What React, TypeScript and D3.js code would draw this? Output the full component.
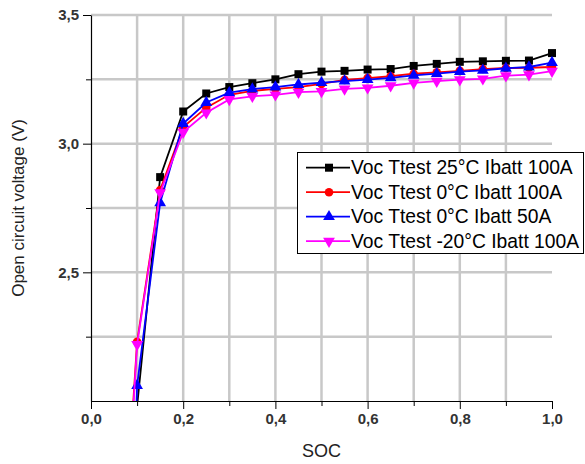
import React, { useEffect, useRef } from "react";
import * as d3 from "d3";

const soc = [0.09, 0.1, 0.15, 0.2, 0.25, 0.3, 0.35, 0.4, 0.45, 0.5, 0.55, 0.6, 0.65, 0.7, 0.75, 0.8, 0.85, 0.9, 0.95, 1.0];

const voc25_100 = [1.6, 1.98, 2.87, 3.125, 3.195, 3.22, 3.235, 3.25, 3.27, 3.28, 3.283, 3.288, 3.29, 3.302, 3.31, 3.318, 3.32, 3.322, 3.323, 3.352];
const voc0_100 = [1.95, 2.23, 2.82, 3.065, 3.14, 3.19, 3.205, 3.213, 3.22, 3.232, 3.248, 3.255, 3.262, 3.272, 3.277, 3.283, 3.29, 3.294, 3.295, 3.298];
const voc0_50 = [1.5, 2.06, 2.77, 3.078, 3.16, 3.198, 3.212, 3.22, 3.23, 3.237, 3.243, 3.249, 3.256, 3.265, 3.272, 3.28, 3.285, 3.293, 3.298, 3.315];
const vocm20_100 = [1.92, 2.22, 2.81, 3.045, 3.12, 3.172, 3.184, 3.19, 3.2, 3.203, 3.213, 3.217, 3.225, 3.236, 3.243, 3.249, 3.252, 3.264, 3.268, 3.282];

const seriesNames = [
  "Voc Ttest 25°C Ibatt 100A",
  "Voc Ttest 0°C Ibatt 100A",
  "Voc Ttest 0°C Ibatt 50A",
  "Voc Ttest -20°C Ibatt 100A",
];
const xTicks = [0, 0.2, 0.4, 0.6, 0.8, 1.0];
const yTicks = [2.5, 3.0, 3.5];

const FONT = "'Liberation Sans', Arial, sans-serif";

export default function App() {
  const ref = useRef<SVGSVGElement>(null);

  useEffect(() => {
    const svg = d3.select(ref.current);
    svg.selectAll("*").remove();

    const x = d3.scaleLinear().domain([0, 1]).range([91, 552]);
    const y = d3.scaleLinear().domain([2, 3.5]).range([401, 15]);

    const series = [
      { name: seriesNames[0], values: voc25_100, color: "#000000", symbol: d3.symbolSquare, size: 64, rot: 0 },
      { name: seriesNames[1], values: voc0_100, color: "#ff0000", symbol: d3.symbolCircle, size: 58, rot: 0 },
      { name: seriesNames[2], values: voc0_50, color: "#0000ff", symbol: d3.symbolTriangle, size: 60, rot: 0 },
      { name: seriesNames[3], values: vocm20_100, color: "#ff00ff", symbol: d3.symbolTriangle, size: 60, rot: 180 },
    ];

    svg.append("defs").append("clipPath").attr("id", "plotclip")
      .append("rect").attr("x", 80).attr("y", 0).attr("width", 500).attr("height", 401);

    // grid
    const grid = svg.append("g").attr("stroke", "#c8c8c8").attr("stroke-width", 2.5);
    d3.range(1, 10).map((d) => d / 10).forEach((v) => {
      grid.append("line").attr("x1", x(v)).attr("x2", x(v)).attr("y1", y(3.5)).attr("y2", y(2));
    });
    [2.25, 2.5, 2.75, 3.0, 3.25, 3.5].forEach((v) => {
      grid.append("line").attr("x1", x(0)).attr("x2", x(1)).attr("y1", y(v)).attr("y2", y(v));
    });

    const fmt = (d: any) => d3.format(".1f")(d as number).replace(".", ",");

    // axes
    const xAxis = svg.append("g").attr("transform", `translate(0,${y(2)})`)
      .call(d3.axisBottom(x).tickValues(xTicks).tickSize(8).tickSizeOuter(0).tickPadding(4).tickFormat(fmt));
    svg.append("g").attr("transform", `translate(0,${y(2)})`)
      .call(d3.axisBottom(x).tickValues([0.1, 0.3, 0.5, 0.7, 0.9]).tickSize(5).tickFormat(() => ""))
      .select(".domain").remove();
    const yAxis = svg.append("g").attr("transform", `translate(${x(0)},0)`)
      .call(d3.axisLeft(y).tickValues(yTicks).tickSize(8).tickSizeOuter(0).tickPadding(4).tickFormat(fmt));
    svg.append("g").attr("transform", `translate(${x(0)},0)`)
      .call(d3.axisLeft(y).tickValues([2.25, 2.75, 3.25]).tickSize(5).tickFormat(() => ""))
      .select(".domain").remove();

    svg.selectAll(".domain").attr("stroke", "#000").attr("stroke-width", 1.2);
    [xAxis, yAxis].forEach((a) => {
      a.selectAll("text").attr("font-family", FONT).attr("font-size", 15).attr("font-weight", "bold").attr("fill", "#333");
    });
    svg.selectAll(".tick line").attr("stroke", "#000");

    // series
    const plot = svg.append("g").attr("clip-path", "url(#plotclip)");
    const line = d3.line<number>().x((_, i) => x(soc[i])).y((d) => y(d));
    series.forEach((s) => {
      const g = plot.append("g");
      g.append("path").datum(s.values).attr("d", line).attr("fill", "none").attr("stroke", s.color).attr("stroke-width", 1.8);
      g.selectAll("path.m").data(s.values).enter().append("path").attr("class", "m")
        .attr("d", d3.symbol().type(s.symbol).size(s.size))
        .attr("transform", (d, i) => `translate(${x(soc[i])},${y(d)}) rotate(${s.rot})`)
        .attr("fill", s.color);
    });

    // axis titles
    svg.append("text").attr("x", (x(0) + x(1)) / 2).attr("y", 457).attr("text-anchor", "middle")
      .attr("font-family", FONT).attr("font-size", 18).attr("fill", "#222").text("SOC");
    svg.append("text").attr("transform", `translate(24,${(y(2) + y(3.5)) / 2}) rotate(-90)`).attr("text-anchor", "middle")
      .attr("font-family", FONT).attr("font-size", 17).attr("fill", "#222").text("Open circuit voltage (V)");

    // legend
    const lg = svg.append("g");
    lg.append("rect").attr("x", 297.5).attr("y", 152.5).attr("width", 286).attr("height", 101)
      .attr("fill", "#fff").attr("stroke", "#000").attr("stroke-width", 1);
    series.forEach((s, i) => {
      const cy = 167.7 + i * 24.5;
      lg.append("line").attr("x1", 306).attr("x2", 350).attr("y1", cy).attr("y2", cy).attr("stroke", s.color).attr("stroke-width", 1.8);
      lg.append("path").attr("d", d3.symbol().type(s.symbol).size(s.size)())
        .attr("transform", `translate(329,${cy}) rotate(${s.rot})`).attr("fill", s.color);
      lg.append("text").attr("x", 351).attr("y", cy).attr("dy", "0.35em")
        .attr("font-family", FONT).attr("font-size", 19.3).attr("fill", "#000").text(s.name);
    });
  }, []);

  return (
    <svg ref={ref} width={585} height={464} style={{ position: "absolute", left: 0, top: 0, background: "#fff" }} />
  );
}
